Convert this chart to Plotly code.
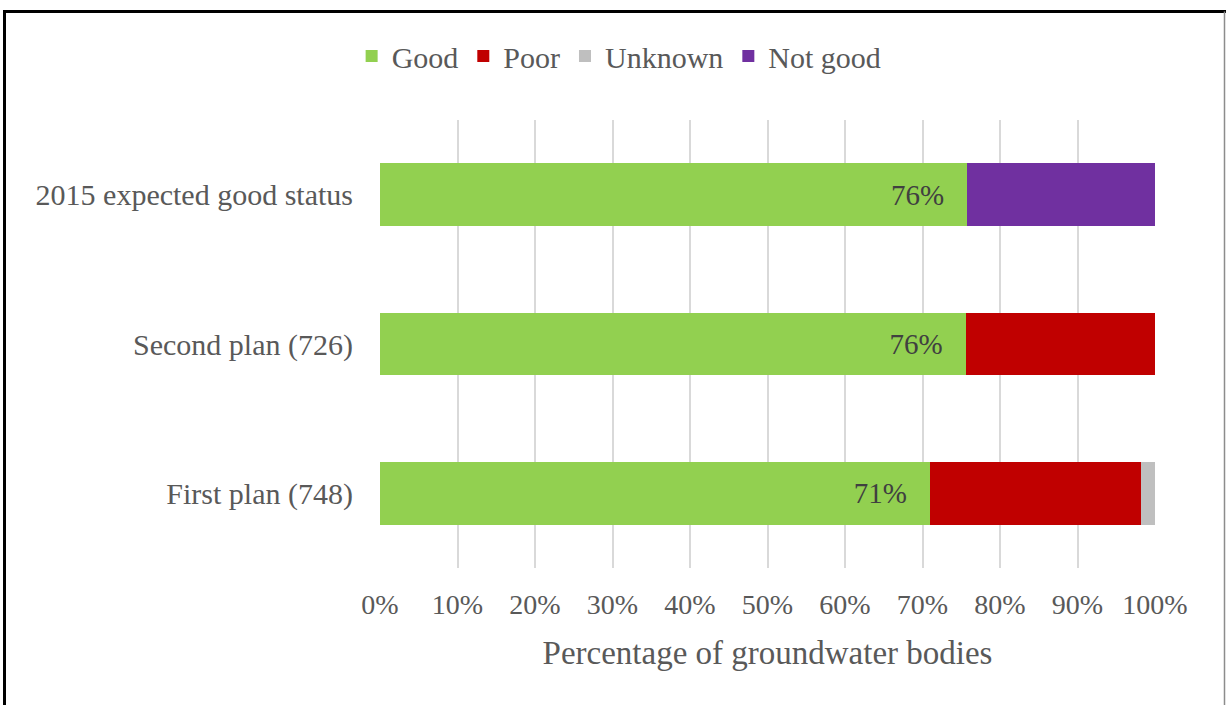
import plotly.graph_objects as go

categories = ["First plan (748)", "Second plan (726)", "2015 expected good status"]
good = [71.0, 75.6, 75.8]
poor = [27.2, 24.4, None]
unknown = [1.8, None, None]
not_good = [None, None, 24.2]
good_labels = ["71%", "76%", "76%"]
x_ticks = [0, 10, 20, 30, 40, 50, 60, 70, 80, 90, 100]
x_tick_labels = [f"{v}%" for v in x_ticks]

FONT = "Liberation Serif"
GREY = "#595959"
W, H = 1226, 705
L, R, T, B = 380, 71, 120, 137
pw, ph = W - L - R, H - T - B

def px(x):
    return (x - L) / pw

def py(y):
    return (H - B - y) / ph

fig = go.Figure()
bw = 0.42
fig.add_trace(go.Bar(y=categories, x=good, orientation="h", name="Good",
                     marker=dict(color="#92d050", line=dict(width=0)), width=bw,
                     text=good_labels, texttemplate="%{text}\u2002\u2009",
                     textposition="inside", insidetextanchor="end",
                     textfont=dict(family=FONT, size=29, color="#404040")))
fig.add_trace(go.Bar(y=categories, x=poor, orientation="h", name="Poor",
                     marker=dict(color="#c00000", line=dict(width=0)), width=bw))
fig.add_trace(go.Bar(y=categories, x=unknown, orientation="h", name="Unknown",
                     marker=dict(color="#bfbfbf", line=dict(width=0)), width=bw))
fig.add_trace(go.Bar(y=categories, x=not_good, orientation="h", name="Not good",
                     marker=dict(color="#7030a0", line=dict(width=0)), width=bw))

fig.update_layout(
    width=W, height=H, barmode="stack",
    margin=dict(l=L, r=R, t=T, b=B, autoexpand=False),
    paper_bgcolor="white", plot_bgcolor="white",
    font=dict(family=FONT, size=28, color=GREY),
    showlegend=True,
    legend=dict(orientation="h", xref="container", yref="container",
                x=0.505, y=1 - 56 / H, xanchor="center", yanchor="middle",
                font=dict(family=FONT, size=30, color=GREY),
                itemwidth=30, tracegroupgap=0, traceorder="normal"),
    uniformtext=dict(mode=False),
)
fig.update_xaxes(range=[0, 100], tickvals=x_ticks, ticktext=x_tick_labels,
                 showgrid=True, gridcolor="#d9d9d9", gridwidth=2,
                 zeroline=False, showline=False, ticks="",
                 ticklabelstandoff=17,
                 tickfont=dict(family=FONT, size=28, color=GREY),
                 title=dict(text="Percentage of groundwater bodies",
                            font=dict(family=FONT, size=33, color=GREY), standoff=21),
                 fixedrange=True)
fig.update_yaxes(categoryorder="array", categoryarray=categories,
                 range=[-0.5, 2.5], showgrid=False, zeroline=False, showline=False,
                 ticks="", ticklabelstandoff=26,
                 tickfont=dict(family=FONT, size=30, color=GREY), fixedrange=True)

# chart frame
fig.add_shape(type="line", xref="paper", yref="paper",
              x0=px(3), x1=px(1226), y0=py(11.5), y1=py(11.5),
              line=dict(color="black", width=3))
fig.add_shape(type="line", xref="paper", yref="paper",
              x0=px(4.5), x1=px(4.5), y0=py(11.5), y1=py(720),
              line=dict(color="black", width=3))
fig.add_shape(type="line", xref="paper", yref="paper",
              x0=px(1224.5), x1=px(1224.5), y0=py(11.5), y1=py(720),
              line=dict(color="#8c8c8c", width=1.5))

fig.write_html("out.html", config={"displayModeBar": False},
               post_script="document.body.style.margin='0';document.body.style.overflow='hidden';")
